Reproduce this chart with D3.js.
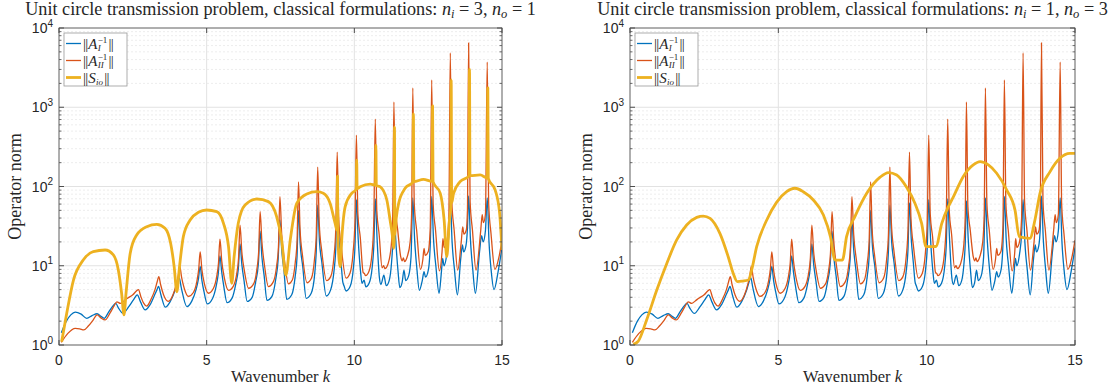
<!DOCTYPE html>
<html>
<head>
<meta charset="utf-8">
<script src="https://cdn.jsdelivr.net/npm/d3@7"></script>
<style>
  body { margin: 0; background: #fff; }
  text { fill: #262626; }
</style>
</head>
<body>
<svg id="fig" width="1120" height="387"></svg>
<script>
// wavenumber ticks and decade ticks
const kTicks = [0, 5, 10, 15];
const decades = [0, 1, 2, 3, 4];

// ||A_I^-1|| (same in both panels), [k, norm]
const normAI = [[0.08,1.43],[0.25,2.0],[0.40,2.4],[0.55,2.6],[0.75,2.45],[0.94,2.17],[1.12,2.35],[1.29,2.48],[1.42,2.3],[1.53,2.17],[1.68,2.6],[1.82,3.1],[1.92,3.35],[2.02,2.9],[2.17,2.5],[2.35,3.0],[2.52,3.7],[2.65,4.3],[2.76,3.5],[2.92,2.77],[3.08,3.2],[3.24,4.3],[3.32,5.0],[3.37,5.5],[3.45,4.3],[3.60,3.0],[3.76,3.5],[3.92,4.8],[4.00,6.0],[4.07,7.1],[4.14,5.3],[4.33,3.05],[4.50,3.6],[4.64,5.0],[4.72,6.8],[4.78,9.8],[4.84,6.5],[4.91,4.7],[5.02,3.3],[5.19,3.8],[5.32,5.5],[5.39,7.8],[5.45,13.3],[5.51,8.3],[5.58,5.5],[5.69,3.42],[5.86,3.9],[5.99,6.0],[6.07,9.0],[6.13,18.8],[6.19,10.5],[6.27,6.3],[6.37,3.55],[6.54,4.0],[6.66,6.3],[6.75,10.5],[6.81,27.4],[6.87,13],[6.95,7.3],[7.04,3.65],[7.21,4.1],[7.34,6.8],[7.42,12],[7.48,37.8],[7.54,16],[7.62,8.5],[7.71,3.77],[7.88,4.3],[8.00,7.5],[8.06,13],[8.11,50],[8.17,18],[8.25,10],[8.37,3.88],[8.54,4.5],[8.66,8],[8.71,15],[8.76,58],[8.82,20],[8.90,11],[9.05,4.15],[9.20,5.0],[9.31,8.5],[9.37,16],[9.42,62],[9.48,22],[9.55,11],[9.61,6.2],[9.65,5.6],[9.72,4.8],[9.86,5.5],[9.97,9.5],[10.02,17],[10.07,68],[10.13,22],[10.21,8.5],[10.26,6.0],[10.33,6.6],[10.39,5.4],[10.50,6.0],[10.61,10],[10.66,18],[10.71,70],[10.77,22],[10.85,7.0],[10.90,5.8],[11.00,7.6],[11.08,5.6],[11.18,6.5],[11.26,11],[11.30,19],[11.34,66],[11.40,22],[11.48,8.5],[11.54,5.3],[11.62,6.2],[11.68,8.8],[11.74,6.5],[11.84,7.5],[11.92,13],[11.98,72],[12.04,22],[12.12,9.0],[12.20,4.9],[12.30,6.5],[12.36,8.4],[12.41,7.2],[12.51,9],[12.57,18],[12.62,75],[12.68,22],[12.76,10],[12.87,4.5],[12.95,8.5],[12.99,12.4],[13.04,10],[13.13,14],[13.20,25],[13.25,68],[13.31,20],[13.39,9],[13.49,4.3],[13.60,12],[13.66,18.3],[13.70,15],[13.78,18],[13.83,30],[13.87,76],[13.93,22],[14.01,9],[14.10,4.5],[14.24,15],[14.31,24],[14.36,20],[14.44,28],[14.50,72],[14.56,20],[14.63,9],[14.73,5.0],[14.87,8.5],[15.0,17]];

// ||A_II^-1|| (same in both panels)
const normAII = [[0.08,1.08],[0.30,1.4],[0.55,1.62],[0.70,1.6],[0.84,1.55],[1.00,1.75],[1.15,2.05],[1.29,2.4],[1.42,2.2],[1.56,2.07],[1.72,2.5],[1.86,3.1],[1.96,3.5],[2.08,3.35],[2.20,3.6],[2.32,3.9],[2.50,4.3],[2.62,4.8],[2.69,5.0],[2.77,4.1],[2.86,3.4],[2.97,3.1],[3.12,3.8],[3.25,5.0],[3.32,6.2],[3.38,7.3],[3.44,5.8],[3.54,4.3],[3.70,3.55],[3.86,4.3],[3.98,6.0],[4.04,7.5],[4.09,9.9],[4.15,7.2],[4.24,5.2],[4.38,4.1],[4.55,4.6],[4.67,6.4],[4.73,9.0],[4.78,15],[4.84,8.8],[4.92,6.0],[5.06,4.5],[5.23,5.2],[5.34,7.3],[5.40,10.7],[5.45,21.6],[5.51,11.5],[5.60,7.0],[5.74,4.9],[5.90,5.5],[6.02,8.0],[6.08,12.5],[6.13,32.6],[6.19,15],[6.28,8.5],[6.42,5.2],[6.59,5.9],[6.70,9.0],[6.76,15],[6.81,48],[6.87,20],[6.96,10],[7.09,5.45],[7.26,6.3],[7.37,10],[7.43,17],[7.48,74.6],[7.54,25],[7.63,12],[7.77,5.9],[7.90,6.6],[8.00,11],[8.06,20],[8.11,114],[8.16,30],[8.25,13],[8.40,6.1],[8.55,7.0],[8.65,12],[8.71,24],[8.76,176],[8.81,35],[8.90,15],[9.06,6.5],[9.20,7.3],[9.31,13],[9.37,28],[9.42,272],[9.47,40],[9.56,17],[9.72,7.0],[9.85,8.0],[9.96,15],[10.02,35],[10.07,446],[10.12,45],[10.20,23],[10.30,8.2],[10.34,8.0],[10.38,7.5],[10.50,8.6],[10.61,16],[10.66,38],[10.71,709],[10.76,50],[10.84,25],[10.94,9.4],[10.99,10.0],[11.04,9.2],[11.14,10.5],[11.25,18],[11.30,42],[11.34,1164],[11.39,55],[11.47,28],[11.57,13],[11.62,11.5],[11.66,12.6],[11.70,11.3],[11.79,13],[11.89,20],[11.94,45],[11.98,1750],[12.03,60],[12.11,28],[12.24,9.0],[12.32,12],[12.36,16.5],[12.40,13.5],[12.50,15],[12.57,30],[12.62,2208],[12.67,60],[12.75,28],[12.88,8.6],[12.97,15],[13.00,22],[13.04,17],[13.13,20],[13.20,40],[13.25,4840],[13.30,65],[13.38,28],[13.50,8.8],[13.62,20],[13.67,31],[13.71,25],[13.79,28],[13.83,50],[13.87,6470],[13.92,65],[14.00,28],[14.12,8.8],[14.28,28],[14.33,44],[14.37,35],[14.44,45],[14.50,3720],[14.55,60],[14.63,25],[14.76,9.0],[14.90,13],[15.0,21]];

// ||S_io||, n_i = 3, n_o = 1
const normSioLeft = [[0.09,1.10],[0.26,2.5],[0.49,6.6],[0.82,11.8],[1.16,15.1],[1.56,15.8],[1.84,13.7],[2.01,8.8],[2.12,4.5],[2.20,2.4],[2.27,4.5],[2.41,14.3],[2.63,24.4],[2.97,31.1],[3.31,33.3],[3.59,29.7],[3.78,19.2],[3.90,9.7],[3.99,4.7],[4.08,9.7],[4.21,23.3],[4.44,37.8],[4.72,47.2],[5.00,50.5],[5.34,48.1],[5.57,34.3],[5.74,17.4],[5.85,6.0],[5.93,13.0],[6.07,34.3],[6.30,58.4],[6.70,69.5],[7.09,64.4],[7.37,41.6],[7.54,21.1],[7.68,7.6],[7.83,21.1],[8.05,61.3],[8.39,80.4],[8.73,86],[8.95,82],[9.18,61.3],[9.35,34.3],[9.415,28],[9.43,135],[9.445,22],[9.52,9.7],[9.58,23.3],[9.69,55.6],[9.91,82],[10.065,92],[10.08,215],[10.095,94],[10.20,99.5],[10.54,107],[10.715,104],[10.73,333],[10.745,103],[10.87,99.5],[11.10,67.6],[11.21,37.8],[11.30,22],[11.33,16.6],[11.35,20],[11.36,563],[11.37,24],[11.42,40],[11.50,61.3],[11.72,94.8],[11.985,114],[12.0,822],[12.015,115],[12.34,123],[12.635,116],[12.65,1037],[12.665,115],[12.91,82],[13.04,37.8],[13.13,13.0],[13.22,37.8],[13.265,55],[13.28,2208],[13.295,62],[13.36,82],[13.58,115],[13.885,136],[13.90,3025],[13.915,137],[14.26,140],[14.505,128],[14.52,1750],[14.535,127],[14.77,90],[14.92,45.9],[15.0,15.8]];

// ||S_io||, n_i = 1, n_o = 3
const normSioRight = [[0.11,1.02],[0.28,1.12],[0.56,2.07],[0.90,4.9],[1.24,10.7],[1.57,21],[1.91,32.7],[2.25,40.8],[2.47,42.4],[2.70,39.7],[3.03,25.6],[3.31,13.0],[3.48,8.0],[3.62,6.3],[3.80,6.4],[3.99,6.6],[4.10,8.8],[4.27,17.4],[4.61,37.8],[4.94,63],[5.28,86],[5.56,95],[5.84,86],[6.18,67.6],[6.52,43.7],[6.76,23],[6.91,11.8],[7.16,11.8],[7.30,23.3],[7.58,41.6],[7.98,82],[8.43,131],[8.71,150],[8.99,140],[9.33,97],[9.60,62],[9.83,34.3],[9.98,17.4],[10.31,17.5],[10.51,34.3],[10.73,55.6],[10.90,74],[11.23,133],[11.57,187],[11.80,206],[12.08,187],[12.36,147],[12.70,90],[12.98,50],[13.12,23.3],[13.48,22.2],[13.65,37.8],[13.82,82],[14.16,154],[14.49,227],[14.83,262],[15.0,262]];

const colors = { AI: "#0072BD", AII: "#D95319", Sio: "#EDB120" };

const panels = [
  { left: 59,  right: 502,  ni: "3", no: "1", sio: normSioLeft },
  { left: 630, right: 1075, ni: "1", no: "3", sio: normSioRight }
];
const yTop = 28, yBottom = 345;
const serif = "'Liberation Serif', 'DejaVu Serif', serif";
const sans = "'Liberation Sans', Arial, sans-serif";

const svg = d3.select("#fig");

panels.forEach((p, pi) => {
  const x = d3.scaleLinear().domain([0, 15]).range([p.left, p.right]);
  const y = d3.scaleLog().domain([1, 1e4]).range([yBottom, yTop]);
  const g = svg.append("g");

  // grid
  const minor = [];
  decades.slice(0, -1).forEach(d => { for (let m = 2; m < 10; m++) minor.push(m * Math.pow(10, d)); });
  g.selectAll(".mgrid").data(minor).enter().append("line")
    .attr("x1", p.left).attr("x2", p.right)
    .attr("y1", d => y(d)).attr("y2", d => y(d))
    .attr("stroke", "#e9e9e9").attr("stroke-dasharray", "2,2").attr("stroke-width", 0.8);
  g.selectAll(".ygrid").data(decades.map(d => Math.pow(10, d))).enter().append("line")
    .attr("x1", p.left).attr("x2", p.right)
    .attr("y1", d => y(d)).attr("y2", d => y(d))
    .attr("stroke", "#e2e2e2");
  g.selectAll(".xgrid").data(kTicks).enter().append("line")
    .attr("x1", d => x(d)).attr("x2", d => x(d))
    .attr("y1", yTop).attr("y2", yBottom)
    .attr("stroke", "#e2e2e2");

  // curves
  const clipId = "clip" + pi;
  svg.append("clipPath").attr("id", clipId).append("rect")
    .attr("x", p.left).attr("y", yTop).attr("width", p.right - p.left).attr("height", yBottom - yTop);
  const line = d3.line().x(d => x(d[0])).y(d => y(d[1])).curve(d3.curveMonotoneX);
  const cg = g.append("g").attr("clip-path", `url(#${clipId})`);
  cg.append("path").attr("d", line(normAI)).attr("fill", "none").attr("stroke", colors.AI).attr("stroke-width", 1.3);
  cg.append("path").attr("d", line(normAII)).attr("fill", "none").attr("stroke", colors.AII).attr("stroke-width", 1.3);
  cg.append("path").attr("d", line(p.sio)).attr("fill", "none").attr("stroke", colors.Sio).attr("stroke-width", 2.8)
    .attr("stroke-linejoin", "round");

  // box and ticks
  g.append("rect").attr("x", p.left).attr("y", yTop).attr("width", p.right - p.left).attr("height", yBottom - yTop)
    .attr("fill", "none").attr("stroke", "#4d4d4d").attr("stroke-width", 0.8);
  kTicks.forEach(k => {
    g.append("line").attr("x1", x(k)).attr("x2", x(k)).attr("y1", yBottom).attr("y2", yBottom - 5).attr("stroke", "#4d4d4d");
    g.append("line").attr("x1", x(k)).attr("x2", x(k)).attr("y1", yTop).attr("y2", yTop + 5).attr("stroke", "#4d4d4d");
    g.append("text").attr("x", x(k)).attr("y", yBottom + 20).attr("text-anchor", "middle")
      .attr("font-family", sans).attr("font-size", 14).text(k);
  });
  decades.forEach(d => {
    const v = Math.pow(10, d);
    g.append("line").attr("x1", p.left).attr("x2", p.left + 5).attr("y1", y(v)).attr("y2", y(v)).attr("stroke", "#4d4d4d");
    g.append("line").attr("x1", p.right).attr("x2", p.right - 5).attr("y1", y(v)).attr("y2", y(v)).attr("stroke", "#4d4d4d");
    const t = g.append("text").attr("x", p.left - 6).attr("y", y(v) + 5).attr("text-anchor", "end")
      .attr("font-family", sans).attr("font-size", 14);
    t.append("tspan").text("10");
    t.append("tspan").attr("dy", -6.5).attr("font-size", 10).text(d);
  });
  minor.forEach(v => {
    g.append("line").attr("x1", p.left).attr("x2", p.left + 2.5).attr("y1", y(v)).attr("y2", y(v)).attr("stroke", "#4d4d4d").attr("stroke-width", 0.8);
    g.append("line").attr("x1", p.right).attr("x2", p.right - 2.5).attr("y1", y(v)).attr("y2", y(v)).attr("stroke", "#4d4d4d").attr("stroke-width", 0.8);
  });

  // title
  const cx = (p.left + p.right) / 2;
  const title = g.append("text").attr("x", cx).attr("y", 15).attr("text-anchor", "middle")
    .attr("font-family", serif).attr("font-size", 18.2);
  title.append("tspan").text("Unit circle transmission problem, classical formulations: ");
  title.append("tspan").attr("font-style", "italic").text("n");
  title.append("tspan").attr("font-style", "italic").attr("font-size", 12.5).attr("dy", 2.5).text("i");
  title.append("tspan").attr("dy", -2.5).text(" = " + p.ni + ", ");
  title.append("tspan").attr("font-style", "italic").text("n");
  title.append("tspan").attr("font-style", "italic").attr("font-size", 12.5).attr("dy", 2.5).text("o");
  title.append("tspan").attr("dy", -2.5).text(" = " + p.no);

  // axis labels
  const xl = g.append("text").attr("x", cx).attr("y", 382).attr("text-anchor", "middle")
    .attr("font-family", serif).attr("font-size", 16.5);
  xl.append("tspan").text("Wavenumber ");
  xl.append("tspan").attr("font-style", "italic").text("k");
  g.append("text").attr("transform", `translate(${p.left - 38},${(yTop + yBottom) / 2}) rotate(-90)`)
    .attr("text-anchor", "middle").attr("font-family", serif).attr("font-size", 18).text("Operator norm");

  // legend
  const lg = g.append("g").attr("transform", `translate(${p.left + 5},33)`);
  lg.append("rect").attr("width", 63).attr("height", 53).attr("fill", "#fff").attr("stroke", "#9a9a9a").attr("stroke-width", 0.8);
  const entries = [
    { c: colors.AI, w: 1.3, base: "A", sub: "I", sup: "\u22121" },
    { c: colors.AII, w: 1.3, base: "A", sub: "II", sup: "\u22121" },
    { c: colors.Sio, w: 2.8, base: "S", sub: "io", sup: null }
  ];
  entries.forEach((e, i) => {
    const ly = 10.5 + i * 17;
    lg.append("line").attr("x1", 2).attr("x2", 17).attr("y1", ly).attr("y2", ly).attr("stroke", e.c).attr("stroke-width", e.w);
    normLabel(lg, 19, ly + 5, e.base, e.sub, e.sup);
  });
});

function normLabel(g, x0, y0, base, sub, sup) {
  const fs = 15;
  let t = g.append("text").attr("x", x0).attr("y", y0).attr("font-family", serif).attr("font-size", fs)
    .attr("letter-spacing", -0.8).text("||");
  let cx = x0 + t.node().getComputedTextLength() + 0.8;
  t = g.append("text").attr("x", cx).attr("y", y0).attr("font-family", serif).attr("font-style", "italic").attr("font-size", fs).text(base);
  cx += t.node().getComputedTextLength() + 0.3;
  let w = 0;
  if (sup) {
    const s = g.append("text").attr("x", cx).attr("y", y0 - 6).attr("font-family", serif).attr("font-size", 9).text(sup);
    w = s.node().getComputedTextLength();
  }
  const b = g.append("text").attr("x", cx).attr("y", y0 + 2.5).attr("font-family", serif).attr("font-style", "italic").attr("font-size", 9).text(sub);
  w = Math.max(w, b.node().getComputedTextLength());
  g.append("text").attr("x", cx + w + 1.2).attr("y", y0).attr("font-family", serif).attr("font-size", fs)
    .attr("letter-spacing", -0.8).text("||");
}
</script>
</body>
</html>
